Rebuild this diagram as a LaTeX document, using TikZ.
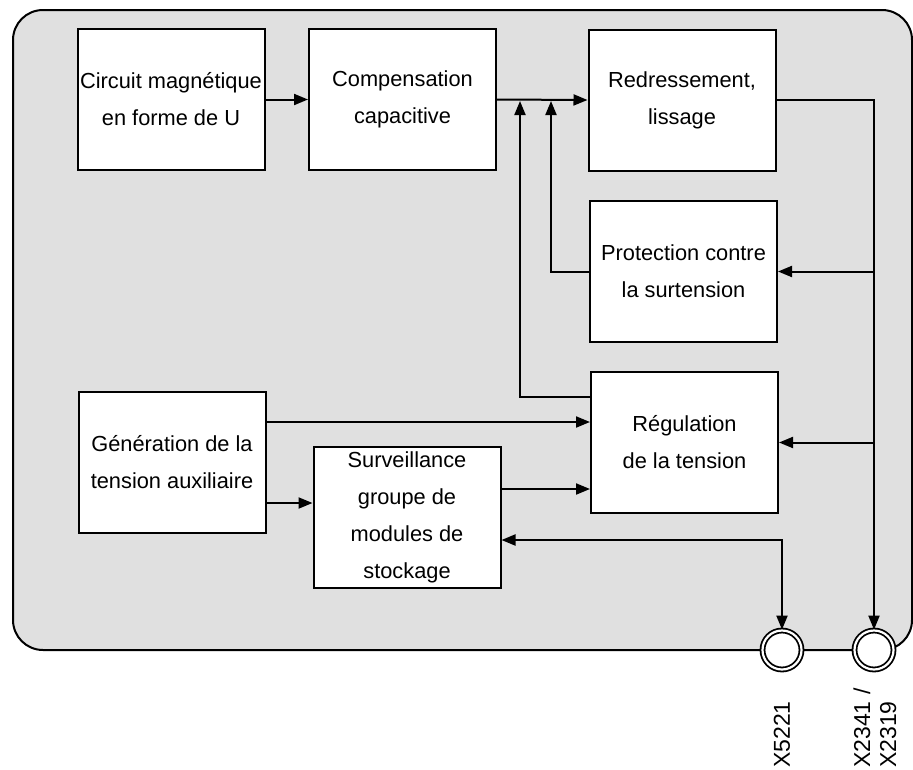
\documentclass[tikz,border=0pt]{standalone}
\usepackage{fontspec}
\setmainfont{Liberation Sans}
\usetikzlibrary{arrows.meta}
\definecolor{bggray}{RGB}{224,224,224}
\tikzstyle{block} = [draw, fill=white, line width=2pt, minimum width=187pt, minimum height=141pt, inner sep=0pt, align=center, font=\fontsize{21.8}{37}\selectfont]
\tikzstyle{port} = [circle, draw, double, line width=1.8pt, double distance=2.2pt, fill=white, minimum size=39pt, inner sep=0pt]
\tikzstyle{lbl} = [rotate=90, anchor=west, inner sep=0pt, align=left, font=\fontsize{23}{26}\selectfont]
\tikzstyle{arr} = [line width=2pt, -{Triangle[length=14pt,width=11pt]}]
\tikzstyle{arrs} = [line width=2pt, {Triangle[length=14pt,width=11pt]}-{Triangle[length=14pt,width=11pt]}]
\begin{document}
\begin{tikzpicture}[x=1pt,y=-1pt]
\useasboundingbox (0,0) rectangle (913,769);
\draw[fill=bggray, line width=2pt, rounded corners=30pt] (13,10) rectangle (912,650);

\node[block] (circ) at (171,99.5) {Circuit magnétique\\en forme de U};
\node[block] (comp) at (402.5,99.5) {Compensation\\capacitive};
\node[block] (redr) at (682,100) {Redressement,\\lissage};
\node[block] (prot) at (683.5,271.5) {Protection contre\\la surtension};
\node[block] (regu) at (684.5,442.5) {Régulation\\de la tension};
\node[block] (gene) at (172,462.5) {Génération de la\\tension auxiliaire};
\node[block] (surv) at (407,517.5) {Surveillance\\groupe de\\modules de\\stockage};

\node[port] (xa) at (782,650) {};
\node[port] (xb) at (874,650) {};
\node[lbl] (la) at (782,768) {X5221};
\node[lbl] (lb) at (875,768) {X2341 /\\X2319};

\coordinate (jp) at (551,101);
\coordinate (jr) at (520,101);
\coordinate (g1) at ([yshift=-31pt]gene.north east);
\coordinate (g2) at ([yshift=31pt]gene.south east);
\coordinate (s1) at ([yshift=-43pt]surv.north east);
\coordinate (s2) at ([yshift=49pt]surv.south east);

\draw[arr] (circ.east) -- (comp.west);
\draw[arr] (comp.east) -- (redr.west);
\draw[arr] (prot.west) -| (jp);
\draw[arr] ([yshift=-26pt]regu.north west) -| (jr);
\draw[arr] (redr.east) -| (xb.north);
\draw[arr] (prot.east -| xb) -- (prot.east);
\draw[arr] (regu.east -| xb) -- (regu.east);
\draw[arr] (g1) -- (g1 -| regu.west);
\draw[arr] (g2) -- (g2 -| surv.west);
\draw[arr] (s1) -- (s1 -| regu.west);
\draw[arrs] (s2) -| (xa.north);
\end{tikzpicture}
\end{document}
